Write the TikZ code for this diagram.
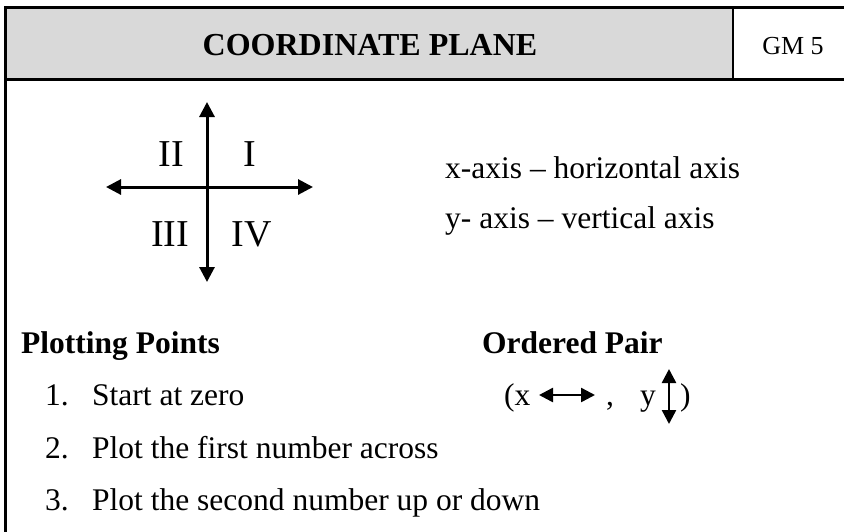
\documentclass[tikz,border=0pt]{standalone}
\usepackage{fontspec}
\setmainfont{Liberation Serif}
\usepackage{xcolor}
\usetikzlibrary{arrows.meta}
\definecolor{headgray}{HTML}{D9D9D9}

\begin{document}
\begin{tikzpicture}[x=1pt, y=-1pt,
    txt/.style={inner sep=0pt, anchor=base west, font=\fontsize{31.5}{38}\selectfont},
    head/.style={inner sep=0pt, anchor=base west, font=\fontsize{31.5}{38}\selectfont\bfseries},
    quad/.style={inner sep=0pt, anchor=base, font=\fontsize{38}{44}\selectfont},
    rule/.style={line width=3pt, line cap=rect},
    axis/.style={{Triangle[length=15pt,width=15pt]}-{Triangle[length=15pt,width=15pt]}, line width=3pt},
    small/.style={{Triangle[length=14pt,width=14pt]}-{Triangle[length=14pt,width=14pt]}, line width=2.5pt},
  ]
    \useasboundingbox (0,0) rectangle (844,531);
    % header band
    \fill[headgray] (5,7) rectangle (733,79);
    \draw[rule] (5,531) -- (5,7) -- (846,7);
    \draw[rule] (5,79) -- (846,79);
    \draw[line width=2.5pt] (733,7) -- (733,79);
    \node[inner sep=0pt, anchor=base, font=\fontsize{32}{38}\selectfont\bfseries] (title) at (370,55) {COORDINATE PLANE};
    \node[inner sep=0pt, anchor=base, font=\fontsize{26}{30}\selectfont] (code) at (793,54) {GM 5};

    % quadrants
    \coordinate (xl) at (106,187);
    \coordinate (xr) at (313,187);
    \coordinate (yt) at (207,102);
    \coordinate (yb) at (207,282);
    \draw[axis] (xl) -- (xr);
    \draw[axis] (yb) -- (yt);
    \node[quad] (q2) at (171,166) {II};
    \node[quad] (q1) at (250,166) {I};
    \node[quad] (q3) at (170,246) {III};
    \node[quad] (q4) at (252,246) {IV};

    \node[txt] (xax) at (445,178) {x-axis \textendash{} horizontal axis};
    \node[txt] (yax) at (445,228) {y- axis \textendash{} vertical axis};

    % plotting points
    \node[head] (pp) at (21,353) {Plotting Points};
    \node[txt] (n1) at (45,405) {1.};
    \node[txt] (s1) at (92,405) {Start at zero};
    \node[txt] (n2) at (45,458) {2.};
    \node[txt] (s2) at (92,458) {Plot the first number across};
    \node[txt] (n3) at (45,510) {3.};
    \node[txt] (s3) at (92,510) {Plot the second number up or down};

    % ordered pair
    \node[head] (op) at (482,353) {Ordered Pair};
    \node[txt] (px) at (504,405) {(x};
    \node[txt] (pc) at (606,405) {,};
    \node[txt] (py) at (640,405) {y};
    \node[txt] (pr) at (680,405) {)};
    \coordinate (hl) at (539,395);
    \coordinate (hr) at (595,395);
    \coordinate (vt) at (669,369);
    \coordinate (vb) at (669,424);
    \draw[small] (hl) -- (hr);
    \draw[small] (vb) -- (vt);
  \end{tikzpicture}
\end{document}
